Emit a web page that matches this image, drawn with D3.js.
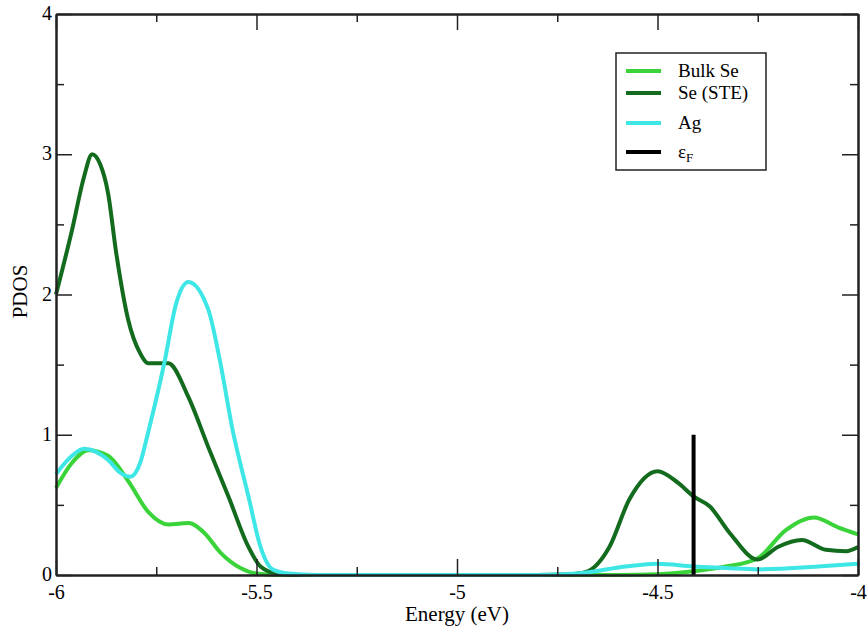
<!DOCTYPE html>
<html><head><meta charset="utf-8">
<script src="https://cdn.jsdelivr.net/npm/d3@7"></script>
<style>body{margin:0;background:#fff}svg{display:block}</style>
</head><body><svg id="c" width="868" height="633"></svg>
<script>
// ---- data ----
const bulkE = [-6, -5.96, -5.92, -5.87, -5.82, -5.77, -5.72, -5.67, -5.63, -5.59, -5.54, -5.5, -5.45, -4.8, -4.6, -4.5, -4.4, -4.33, -4.25, -4.18, -4.11, -4.05, -4.0];
const bulkV = [0.62, 0.80, 0.89, 0.85, 0.67, 0.45, 0.36, 0.37, 0.30, 0.16, 0.05, 0.01, 0, 0, 0, 0.005, 0.03, 0.06, 0.12, 0.32, 0.41, 0.34, 0.29];
const steE = [-6, -5.96, -5.93, -5.91, -5.89, -5.87, -5.85, -5.82, -5.79, -5.77, -5.72, -5.67, -5.62, -5.57, -5.52, -5.49, -5.45, -5.4, -4.8, -4.72, -4.68, -4.62, -4.57, -4.5, -4.45, -4.41, -4.37, -4.32, -4.25, -4.2, -4.14, -4.08, -4.03, -4.0];
const steV = [2.0, 2.46, 2.84, 3.0, 2.93, 2.72, 2.3, 1.82, 1.58, 1.51, 1.51, 1.27, 0.91, 0.56, 0.2, 0.06, 0.01, 0, 0, 0.005, 0.02, 0.2, 0.54, 0.74, 0.66, 0.56, 0.49, 0.30, 0.11, 0.2, 0.25, 0.18, 0.17, 0.2];
const agE = [-6, -5.96, -5.93, -5.87, -5.84, -5.815, -5.79, -5.77, -5.73, -5.70, -5.67, -5.62, -5.59, -5.56, -5.52, -5.49, -5.46, -5.42, -5.35, -4.8, -4.7, -4.58, -4.5, -4.41, -4.33, -4.25, -4.1, -4.0];
const agV = [0.72, 0.85, 0.90, 0.82, 0.73, 0.70, 0.80, 1.02, 1.51, 1.94, 2.09, 1.89, 1.51, 1.04, 0.56, 0.2, 0.04, 0.01, 0, 0, 0.01, 0.06, 0.08, 0.06, 0.05, 0.04, 0.06, 0.08];
const fermiE = -4.41;
const fermiV = [0, 1.0];
const seriesNames = ["Bulk Se", "Se (STE)", "Ag"];
const seriesColors = ["#3ad43a", "#136b1e", "#3ee6e6"];
const xTicks = [-6, -5.5, -5, -4.5, -4];
const yTicks = [0, 1, 2, 3, 4];

// ---- layout ----
const FONT = '"Liberation Serif", "Times New Roman", serif';
const FS = "21px";
const svg = d3.select("#c");
const L = 56, R = 858, T = 14, B = 575;
const x = d3.scaleLinear().domain([-6, -4]).range([L, R]);
const y = d3.scaleLinear().domain([0, 4]).range([B, T]);

const series = [
  {name: seriesNames[0], color: seriesColors[0], E: bulkE, V: bulkV},
  {name: seriesNames[1], color: seriesColors[1], E: steE, V: steV},
  {name: seriesNames[2], color: seriesColors[2], E: agE, V: agV}
];
const line = d3.line().x(d => x(d[0])).y(d => y(d[1])).curve(d3.curveMonotoneX);
const plot = svg.append("g");
series.forEach(s => {
  plot.append("path").datum(s.E.map((e, i) => [e, s.V[i]]))
    .attr("d", line).attr("fill", "none").attr("stroke", s.color)
    .attr("stroke-width", 4).attr("stroke-linejoin", "round");
});
plot.append("line").attr("x1", x(fermiE)).attr("x2", x(fermiE))
  .attr("y1", y(fermiV[0])).attr("y2", y(fermiV[1]))
  .attr("stroke", "#000").attr("stroke-width", 4);

// ---- axes ----
const minorX = [-5.75, -5.25, -4.75, -4.25];
const minorY = [0.5, 1.5, 2.5, 3.5];
const fmt = v => String(v);
function ax(gen, tr, ticks, size, labels, fs) {
  const g = svg.append("g").attr("transform", tr)
    .call(gen.tickValues(ticks).tickSizeInner(size).tickSizeOuter(0).tickFormat(labels ? fmt : ""));
  g.attr("font-family", FONT);
  g.select(".domain").attr("stroke", "#222").attr("stroke-width", 2);
  g.selectAll(".tick line").attr("stroke", "#222").attr("stroke-width", 1.5);
  g.selectAll("text").style("font-family", FONT).style("font-size", fs || FS).attr("fill", "#000");
  return g;
}
const gx = ax(d3.axisBottom(x), `translate(0,${B})`, xTicks, -16, true, "20px");
gx.selectAll("text").attr("y", 24).attr("dy", null);
ax(d3.axisBottom(x), `translate(0,${B})`, minorX, -8, false);
const gy = ax(d3.axisLeft(y), `translate(${L},0)`, yTicks, -16, true, "20px");
gy.selectAll("text").attr("x", -4).attr("dy", "0.28em");
ax(d3.axisLeft(y), `translate(${L},0)`, minorY, -8, false);
ax(d3.axisTop(x), `translate(0,${T})`, xTicks, -16, false);
ax(d3.axisTop(x), `translate(0,${T})`, minorX, -8, false);
ax(d3.axisRight(y), `translate(${R},0)`, yTicks, -16, false);
ax(d3.axisRight(y), `translate(${R},0)`, minorY, -8, false);

svg.append("text").attr("x", (L + R) / 2).attr("y", 621).attr("text-anchor", "middle")
  .style("font-family", FONT).style("font-size", FS).text("Energy (eV)");
svg.append("text").attr("transform", `translate(27,${(T + B) / 2 - 3}) rotate(-90)`)
  .attr("text-anchor", "middle").style("font-family", FONT).style("font-size", FS).text("PDOS");

// ---- legend ----
const leg = svg.append("g");
leg.append("rect").attr("x", 616).attr("y", 53).attr("width", 150).attr("height", 117)
  .attr("fill", "#fff").attr("stroke", "#222").attr("stroke-width", 1.5);
const rowsY = [71, 93, 123, 152];
const legItems = series.map(s => ({name: s.name, color: s.color})).concat([{name: "εF", color: "#000"}]);
legItems.forEach((it, i) => {
  leg.append("line").attr("x1", 626).attr("x2", 661).attr("y1", rowsY[i]).attr("y2", rowsY[i])
    .attr("stroke", it.color).attr("stroke-width", 4);
  const t = leg.append("text").attr("x", 678).attr("y", rowsY[i]).attr("dy", "0.33em")
    .style("font-family", FONT).style("font-size", "19px");
  if (i < 3) t.text(it.name);
  else {
    t.append("tspan").text("ε");
    t.append("tspan").attr("dy", "0.3em").style("font-size", "13px").text("F");
  }
});
</script></body></html>
